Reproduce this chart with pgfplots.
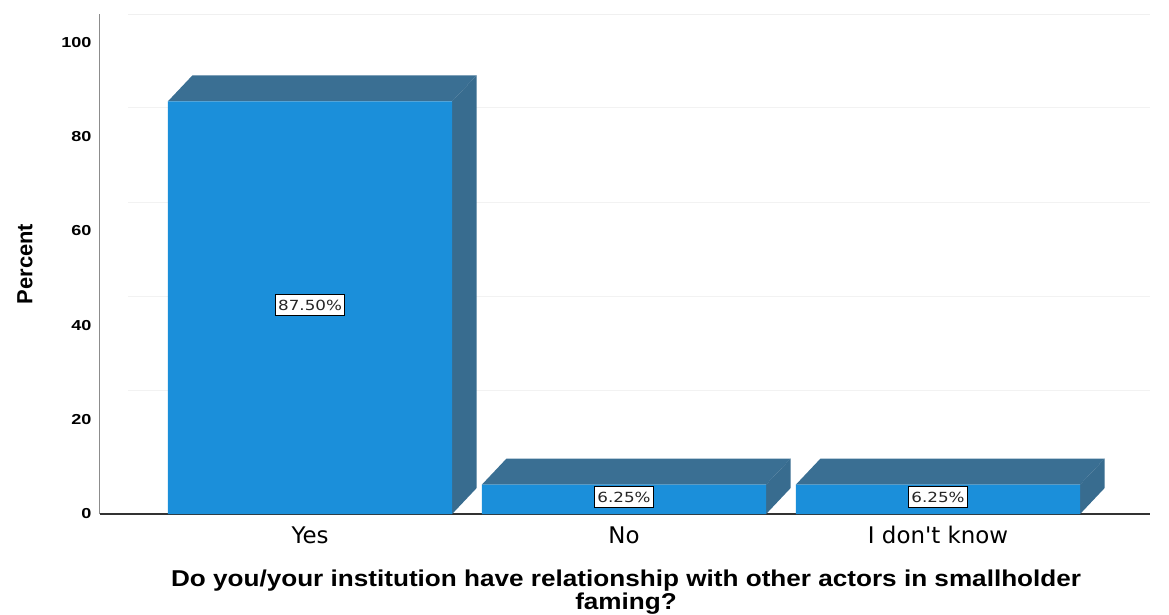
\documentclass[border=0pt]{standalone}
\usepackage{fontspec}
\setmainfont{Liberation Sans}
\newfontfamily\dejavu{DejaVu Sans}
\newfontfamily\dejavuwide[FakeStretch=1.2]{DejaVu Sans}
\newfontfamily\widesans[FakeStretch=1.14]{Liberation Sans}
\newfontfamily\tickfont[FakeStretch=1.25]{Liberation Sans}
\usepackage{pgfplots}
\pgfplotsset{compat=1.18}
\definecolor{barfront}{HTML}{1B8FDA}
\definecolor{bartop}{HTML}{3A6F93}
\definecolor{barside}{HTML}{386C8F}

\begin{document}
\begin{tikzpicture}
\begin{axis}[
  scale only axis,
  width=1050bp, height=500bp,
  xmin=-0.669, xmax=2.675, ymin=0, ymax=106,
  axis x line*=bottom, axis y line*=left,
  x axis line style={draw=black!80, line width=1.2bp, -},
  y axis line style={draw=black!45, line width=1bp, -},
  xtick={0,1,2},
  xticklabels={Yes,No,I don't know},
  ytick={0,20,...,100},
  major tick length=0pt,
  xticklabel style={font=\dejavu\fontsize{23}{26}\selectfont, yshift=-9bp},
  yticklabel style={font=\tickfont\bfseries\fontsize{14.5}{17}\selectfont, xshift=-5bp},
  /pgf/number format/assume math mode=true,
  ylabel={Percent},
  every axis y label/.style={at={(axis description cs:-0.0714,0.5)}, rotate=90, anchor=center, font=\bfseries\fontsize{22}{24}\selectfont},
  xlabel={Do you/your institution have relationship with other actors in smallholder\\faming?},
  every axis x label/.style={at={(axis description cs:0.501,-0.156)}, anchor=center, align=center, font=\widesans\bfseries\fontsize{23}{19}\selectfont},
  clip=false,
]
% faint back wall grid
\draw[black!5, line width=0.8bp] (axis cs:-0.58,26.1) -- (axis cs:2.675,26.1);
\draw[black!5, line width=0.8bp] (axis cs:-0.58,46.1) -- (axis cs:2.675,46.1);
\draw[black!5, line width=0.8bp] (axis cs:-0.58,66.1) -- (axis cs:2.675,66.1);
\draw[black!5, line width=0.8bp] (axis cs:-0.58,86.1) -- (axis cs:2.675,86.1);
\draw[black!6, line width=0.8bp] (axis cs:-0.58,106) -- (axis cs:2.675,106);

% top faces
\addplot[fill=bartop, draw=none] coordinates {(-0.4525,87.5) (-0.3745,93) (0.5305,93) (0.4525,87.5)} -- cycle;
\addplot[fill=bartop, draw=none] coordinates {(0.5475,6.25) (0.6255,11.75) (1.5305,11.75) (1.4525,6.25)} -- cycle;
\addplot[fill=bartop, draw=none] coordinates {(1.5475,6.25) (1.6255,11.75) (2.5305,11.75) (2.4525,6.25)} -- cycle;
% side faces
\addplot[fill=barside, draw=none] coordinates {(0.4525,0) (0.5305,5.5) (0.5305,93) (0.4525,87.5)} -- cycle;
\addplot[fill=barside, draw=none] coordinates {(1.4525,0) (1.5305,5.5) (1.5305,11.75) (1.4525,6.25)} -- cycle;
\addplot[fill=barside, draw=none] coordinates {(2.4525,0) (2.5305,5.5) (2.5305,11.75) (2.4525,6.25)} -- cycle;
% front faces
\addplot[ybar, bar width=0.905, fill=barfront, draw=none] coordinates {(0,87.5) (1,6.25) (2,6.25)};

% value labels
\addplot[draw=none, mark=none, nodes near coords, point meta=explicit symbolic,
  every node near coord/.append style={anchor=center, fill=white, draw=black, line width=1bp, inner xsep=2.5bp, inner ysep=5bp, text=black!85, font=\dejavuwide\fontsize{14}{16}\selectfont}]
  coordinates {(0,44.3) [87.50\%] (1,3.6) [6.25\%] (2,3.6) [6.25\%]};
\end{axis}
\pgfresetboundingbox
\path (current axis.south west) ++(-100bp,-101bp) rectangle ++(1169bp,615bp);
\end{tikzpicture}
\end{document}
